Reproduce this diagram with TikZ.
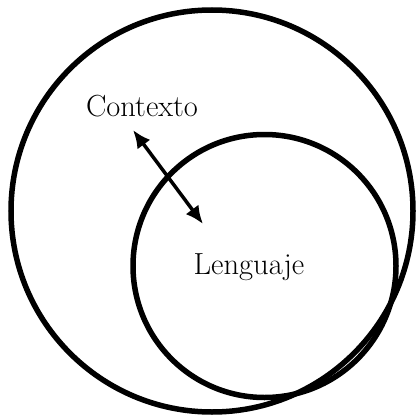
\documentclass[tikz,border=0pt]{standalone}
\usepackage{fontspec}
\setmainfont{Latin Modern Roman}
\usetikzlibrary{arrows.meta}
\begin{document}
\begin{tikzpicture}[x=1pt,y=-1pt,
  ring/.style={draw=black,line width=5.5pt},
  lbl/.style={font=\fontsize{30.5}{32}\selectfont,inner sep=0pt},
  link/.style={line width=3.5pt,{Latex[length=18pt,width=16pt]}-{Latex[length=18pt,width=16pt]}}]
\useasboundingbox (0,0) rectangle (417,420);
\node[ring,circle,minimum size=402pt,inner sep=0pt] (outer) at (212,211) {};
\node[ring,circle,minimum size=263pt,inner sep=0pt] (inner) at (264.5,266) {};
\node[lbl] (ctx) at (142,106) {Contexto};
\node[lbl] (len) at (249,267) {Lenguaje};
\coordinate (a1) at (133,130);
\coordinate (a2) at (203,224);
\draw[link] (a1) -- (a2);
\end{tikzpicture}
\end{document}
